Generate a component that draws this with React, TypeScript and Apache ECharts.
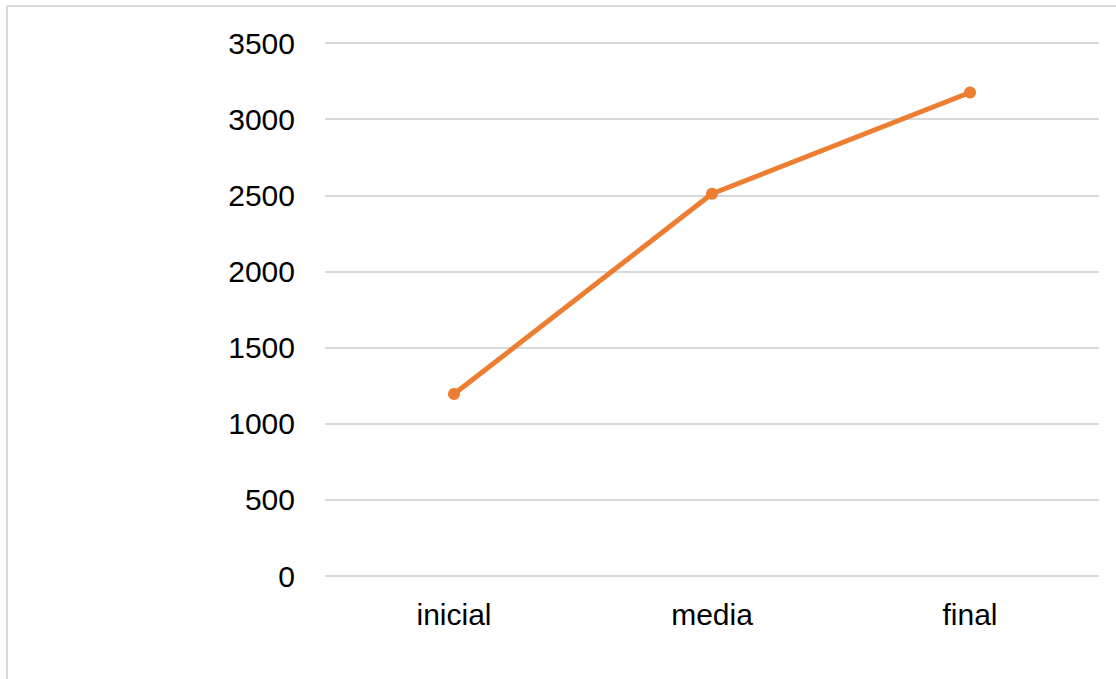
import React, { useEffect, useRef } from "react";
import * as echarts from "echarts";

const categories = ["inicial", "media", "final"];
const values = [1195, 2510, 3175];
const yTicks = [0, 500, 1000, 1500, 2000, 2500, 3000, 3500];

export default function App() {
  const ref = useRef<HTMLDivElement>(null);
  useEffect(() => {
    document.body.style.margin = "0";
    const chart = echarts.init(ref.current!, null, { renderer: "svg" });
    chart.setOption({
      animation: false,
      backgroundColor: "#ffffff",
      grid: { left: 325, right: 17, top: 43, bottom: 103 },
      xAxis: {
        type: "category",
        data: categories,
        axisLine: { show: false },
        axisTick: { show: false },
        axisLabel: {
          color: "#000000",
          fontSize: 30,
          fontFamily: "Liberation Sans, Arial, sans-serif",
          margin: 23,
        },
      },
      yAxis: {
        type: "value",
        min: yTicks[0],
        max: yTicks[yTicks.length - 1],
        interval: 500,
        axisLine: { show: false },
        axisTick: { show: false },
        splitLine: { lineStyle: { color: "#d9d9d9", width: 2 } },
        axisLabel: {
          color: "#000000",
          fontSize: 30,
          fontFamily: "Liberation Sans, Arial, sans-serif",
          margin: 30,
          formatter: (v: number) => String(v),
        },
      },
      graphic: [
        { type: "line", shape: { x1: 7, y1: 6, x2: 1116, y2: 6 }, style: { stroke: "#d9d9d9", lineWidth: 2 } },
        { type: "line", shape: { x1: 7, y1: 6, x2: 7, y2: 679 }, style: { stroke: "#d9d9d9", lineWidth: 2 } },
      ],
      series: [
        {
          type: "line",
          data: values,
          symbol: "circle",
          symbolSize: 12,
          lineStyle: { color: "#ED7D31", width: 5 },
          itemStyle: { color: "#ED7D31" },
        },
      ],
    });
    return () => chart.dispose();
  }, []);
  return <div ref={ref} style={{ width: 1116, height: 679 }} />;
}
